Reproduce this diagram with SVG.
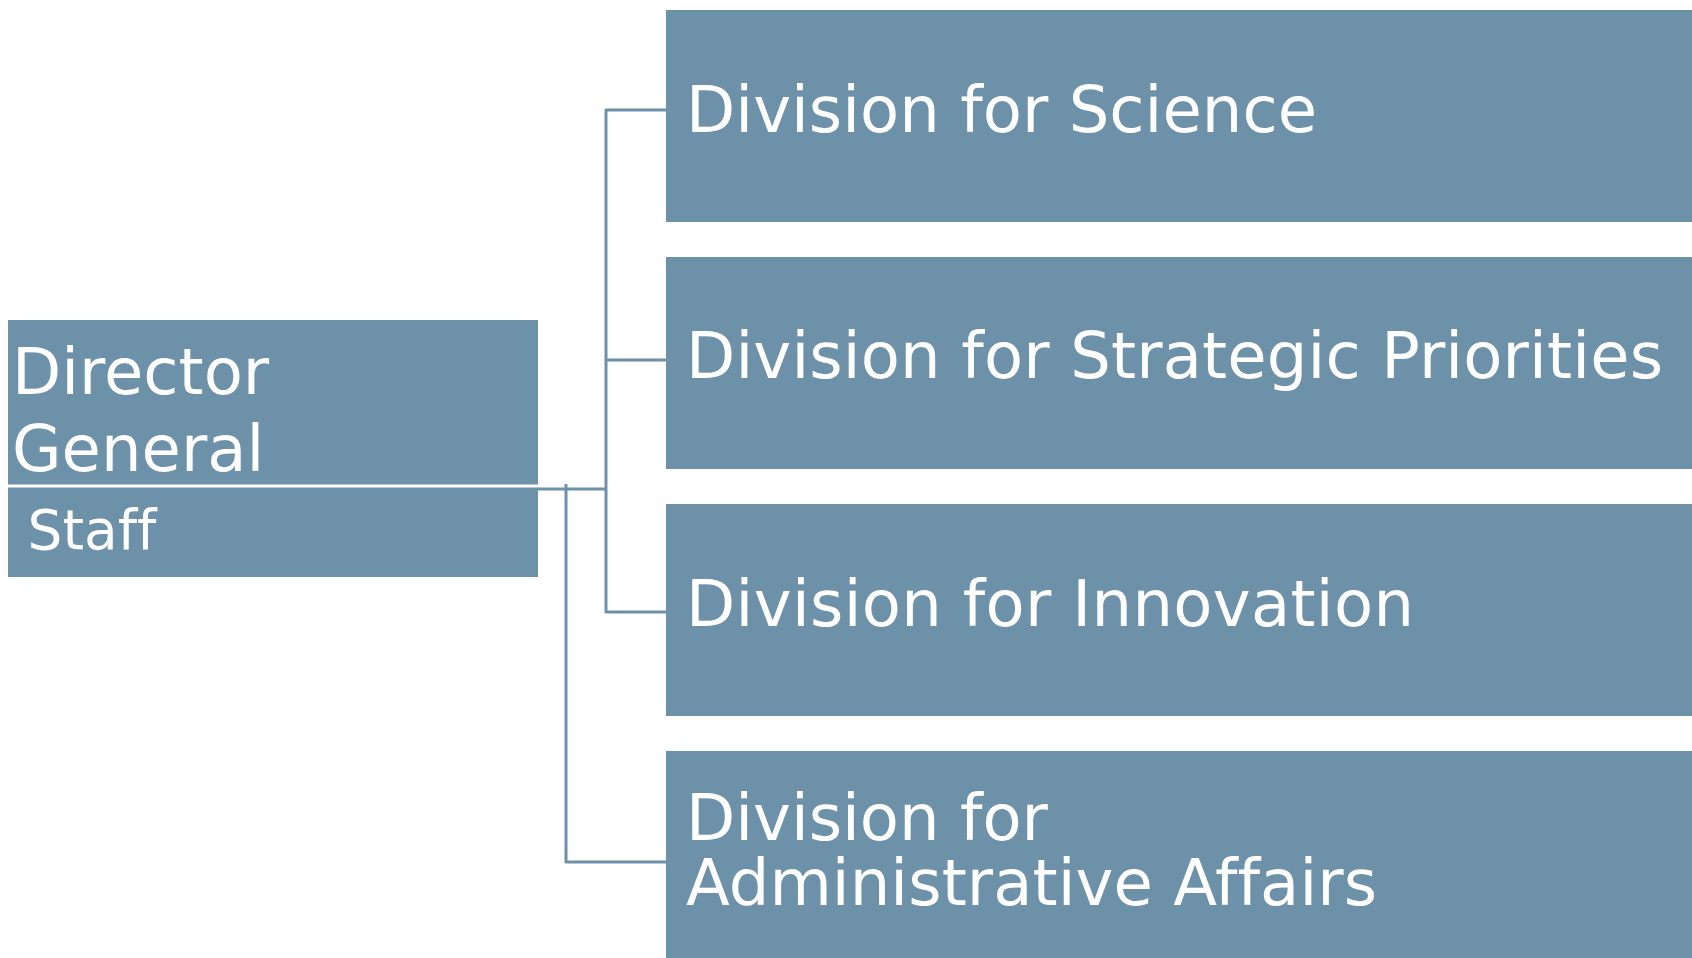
<svg xmlns="http://www.w3.org/2000/svg" width="1692" height="958" viewBox="0 0 1692 958">
  <style>
    .box { fill: #6c91a8; }
    .t { font-family: "DejaVu Sans", Verdana, sans-serif; fill: #ffffff; font-size: 64px; font-variant-ligatures: none; }
    .ts { font-family: "DejaVu Sans", Verdana, sans-serif; fill: #ffffff; font-size: 55px; font-variant-ligatures: none; }
    .conn { fill: none; stroke: #6c91a8; stroke-width: 3; stroke-linejoin: round; }
  </style>
  <rect width="1692" height="958" fill="#ffffff"/>
  <g id="connectors">
    <path class="conn" d="M537 489 H606"/>
    <path class="conn" d="M666 110 H606 V612 H666"/>
    <path class="conn" d="M606 360 H666"/>
    <path class="conn" d="M566 484 V862 H666"/>
  </g>
  <g id="director-general">
    <rect class="box" x="8" y="320" width="530" height="257"/>
    <line x1="8" y1="486" x2="538" y2="486" stroke="#ffffff" stroke-width="3"/>
    <text class="t" x="12" y="394">Director</text>
    <text class="t" x="12" y="471">General</text>
    <text class="ts" x="27.5" y="549">Staff</text>
  </g>
  <g id="division-science">
    <rect class="box" x="666" y="10" width="1026" height="212"/>
    <text class="t" x="686" y="132" textLength="631" lengthAdjust="spacing">Division for Science</text>
  </g>
  <g id="division-strategic">
    <rect class="box" x="666" y="257" width="1026" height="212"/>
    <text class="t" x="686" y="378" textLength="977" lengthAdjust="spacing">Division for Strategic Priorities</text>
  </g>
  <g id="division-innovation">
    <rect class="box" x="666" y="504" width="1026" height="212"/>
    <text class="t" x="686" y="626" textLength="728" lengthAdjust="spacing">Division for Innovation</text>
  </g>
  <g id="division-admin">
    <rect class="box" x="666" y="751" width="1026" height="212"/>
    <text class="t" x="686" y="840">Division for</text>
    <text class="t" x="686" y="905" textLength="691" lengthAdjust="spacing">Administrative Affairs</text>
  </g>
</svg>
